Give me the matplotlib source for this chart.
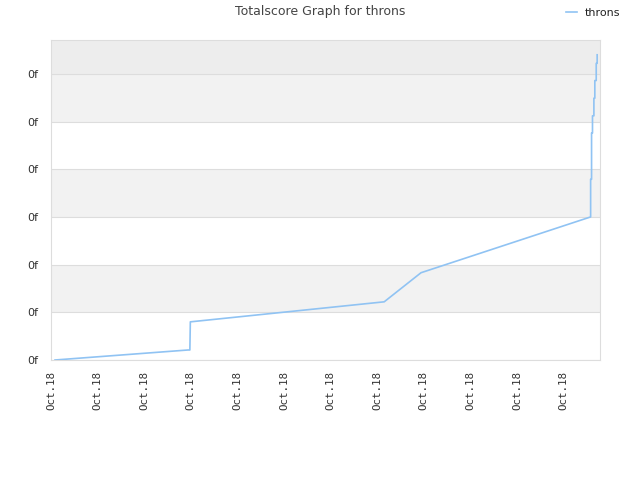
import matplotlib
matplotlib.use("Agg")
import matplotlib.pyplot as plt

# data (x in tick units, y in gridline units)
x_vals = [0.086, 2.94, 2.98, 2.99, 7.15, 7.94, 11.58, 11.58, 11.60, 11.60, 11.62, 11.62,
          11.65, 11.65, 11.67, 11.67, 11.70, 11.70, 11.72, 11.72]
y_vals = [0.0, 0.21, 0.21, 0.80, 1.22, 1.83, 3.0, 3.79, 3.79, 4.76, 4.76, 5.12,
          5.12, 5.49, 5.49, 5.86, 5.86, 6.22, 6.22, 6.40]
x_ticks = list(range(12))
x_labels = ["Oct.18"] * 12
y_ticks = list(range(7))
y_labels = ["0f"] * 7
series_name = "throns"
title = "Totalscore Graph for throns"

fig = plt.figure(figsize=(6.4, 4.8), dpi=100)
ax = fig.add_axes([51/640, 120/480, 549/640, 320/480])
ymax = 6.71
ax.set_xlim(0, 549/46.6)
ax.set_ylim(0, ymax)

for lo in [1, 3, 5]:
    ax.axhspan(lo, lo + 1, color="#f2f2f2", zorder=0, lw=0)
ax.axhspan(6, ymax, color="#ededed", zorder=0, lw=0)
for t in y_ticks:
    ax.axhline(t, color="#dddddd", lw=0.8, zorder=1)

ax.plot(x_vals, y_vals, color="#90c3f3", lw=1.2, zorder=3, label=series_name)

ax.set_xticks(x_ticks)
ax.set_xticklabels(x_labels, rotation=90, fontsize=7.8, color="#333333",
                   family="DejaVu Sans Mono")
ax.set_yticks(y_ticks)
ax.set_yticklabels(y_labels, fontsize=8, color="#333333")
ax.tick_params(axis="x", length=0, pad=8)
ax.tick_params(axis="y", length=0, pad=9)
for s in ax.spines.values():
    s.set_color("#dddddd")
    s.set_linewidth(0.8)

fig.text(320/640, 1 - 12/480, title, ha="center", va="center", fontsize=9, color="#444444")
leg = fig.legend(loc="upper right", bbox_to_anchor=(630/640, 1 + 2/480), frameon=False,
                 fontsize=8, handlelength=1.0, handletextpad=0.7)
for t in leg.get_texts():
    t.set_color("#222222")

fig.savefig("out.png", dpi=100)
